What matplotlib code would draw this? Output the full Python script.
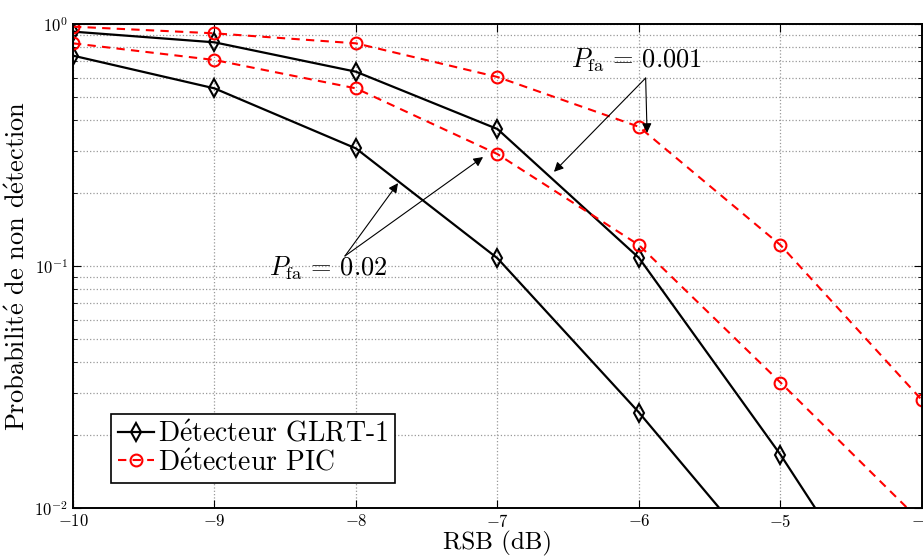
import numpy as np
import matplotlib
matplotlib.use("Agg")
import matplotlib.pyplot as plt
from matplotlib.ticker import LogLocator, NullFormatter

plt.rcParams["font.family"] = ["cmr10", "DejaVu Serif"]
plt.rcParams["mathtext.fontset"] = "cm"
plt.rcParams["axes.formatter.use_mathtext"] = True

# RSB values (dB)
snr = [-10, -9, -8, -7, -6, -5, -4]
snr_glrt_002 = [-10, -9, -8, -7, -6, -5]

# Probability of non-detection
glrt_pfa_001 = [0.93, 0.84, 0.635, 0.368, 0.108, 0.0166, 0.0021]
glrt_pfa_002 = [0.74, 0.542, 0.306, 0.1076, 0.0248, 0.005]
pic_pfa_001 = [0.975, 0.915, 0.832, 0.604, 0.376, 0.122, 0.0279]
pic_pfa_002 = [0.832, 0.71, 0.542, 0.29, 0.122, 0.033, 0.0087]

E = r"$\mathrm{\acute{e}}$"  # e with acute accent in Computer Modern

fig = plt.figure(figsize=(9.23, 5.59), dpi=100)
ax = fig.add_axes([73 / 923, 1 - 508 / 559, 849 / 923, 484 / 559])

glrt_style = dict(color="black", linestyle="-", linewidth=1.6, marker="d",
                  markersize=9, markerfacecolor="none", markeredgewidth=1.5)
pic_style = dict(color="red", linestyle="--", linewidth=1.5, marker="o",
                 markersize=8.5, markerfacecolor="none", markeredgewidth=1.5,
                 dashes=(4, 3))

ax.plot(snr, glrt_pfa_001, label="D" + E + "tecteur GLRT-1", **glrt_style)
ax.plot(snr_glrt_002, glrt_pfa_002, **glrt_style)
ax.plot(snr, pic_pfa_001, label="D" + E + "tecteur PIC", **pic_style)
ax.plot(snr, pic_pfa_002, **pic_style)

ax.set_yscale("log")
ax.set_xlim(-10, -4)
ax.set_ylim(1e-2, 1)
ax.set_xticks([-10, -9, -8, -7, -6, -5, -4])
ax.set_xticklabels([r"$-10$", r"$-9$", r"$-8$", r"$-7$", r"$-6$", r"$-5$", r"$-4$"])
ax.yaxis.set_major_locator(LogLocator(base=10, numticks=10))
ax.yaxis.set_minor_locator(LogLocator(base=10, subs=np.arange(2, 10), numticks=20))
ax.yaxis.set_minor_formatter(NullFormatter())

ax.grid(True, which="major", axis="both", linestyle=":", color="#999999", linewidth=0.9)
ax.grid(True, which="minor", axis="y", linestyle=":", color="#999999", linewidth=0.9)
ax.tick_params(which="both", direction="in", top=True, right=True, labelsize=12)
ax.tick_params(which="major", length=6)
ax.tick_params(which="minor", length=3)
for s in ax.spines.values():
    s.set_linewidth(1.4)

ax.set_xlabel("RSB (dB)", fontsize=18, labelpad=1)
ax.set_ylabel("Probabilit" + E + " de non d" + E + "tection", fontsize=19, labelpad=3)

# Pfa annotations
arrow = dict(arrowstyle="-|>", color="black", linewidth=0.8, mutation_scale=14, shrinkA=0, shrinkB=0)
ax.annotate("", xy=(-5.943, 0.355), xytext=(-5.953, 0.598), arrowprops=arrow)
ax.annotate("", xy=(-6.601, 0.245), xytext=(-5.953, 0.598), arrowprops=arrow)
ax.text(-6.021, 0.71, r"$P_{\mathrm{fa}}\,=\,0.001$", fontsize=19, ha="center", va="center")

ax.annotate("", xy=(-7.703, 0.220), xytext=(-8.078, 0.110), arrowprops=arrow)
ax.annotate("", xy=(-7.102, 0.282), xytext=(-8.078, 0.110), arrowprops=arrow)
ax.text(-8.197, 0.098, r"$P_{\mathrm{fa}}\,=\,0.02$", fontsize=19, ha="center", va="center")

leg = ax.legend(loc="lower left", bbox_to_anchor=(38 / 849, 25 / 484), fontsize=20,
                frameon=True, fancybox=False, edgecolor="black", framealpha=1,
                handlelength=1.3, handletextpad=0.15, borderpad=0.25, labelspacing=0.05,
                borderaxespad=0)
leg.get_frame().set_linewidth(1.2)

fig.savefig("out.png", dpi=100)
